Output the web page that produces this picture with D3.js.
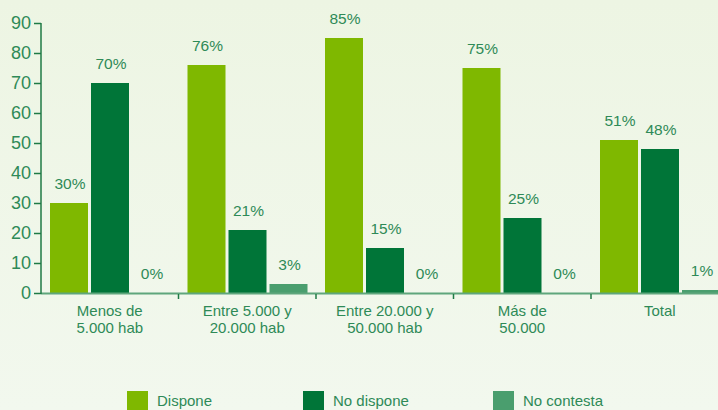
<!DOCTYPE html>
<html>
<head>
<meta charset="utf-8">
<script src="https://cdn.jsdelivr.net/npm/d3@7"></script>
<style>
  html, body { margin: 0; padding: 0; }
  body { width: 718px; height: 410px; overflow: hidden; }
  svg { display: block; font-family: "Liberation Sans", Arial, sans-serif; }
</style>
</head>
<body>
<div id="chart"></div>
<script>
const categories = [['Menos de', '5.000 hab'], ['Entre 5.000 y', '20.000 hab'], ['Entre 20.000 y', '50.000 hab'], ['Más de', '50.000'], ['Total']];
const seriesNames = ['Dispone', 'No dispone', 'No contesta'];
const dispone = [30, 76, 85, 75, 51];
const noDispone = [70, 21, 15, 25, 48];
const noContesta = [0, 3, 0, 0, 1];
const yTicks = [0, 10, 20, 30, 40, 50, 60, 70, 80, 90];
const colors = ['#7fb800', '#007538', '#4a9e6e'];

const width = 718, height = 410;
const textColor = '#2e8a57';
const values = [dispone, noDispone, noContesta];

const svg = d3.select('#chart').append('svg').attr('width', width).attr('height', height);

const grad = svg.append('defs').append('linearGradient').attr('id', 'bg').attr('x1', 0).attr('x2', 0).attr('y1', 0).attr('y2', 1);
grad.append('stop').attr('offset', '0%').attr('stop-color', '#edf5e3');
grad.append('stop').attr('offset', '100%').attr('stop-color', '#f2f8ee');
svg.append('rect').attr('width', width).attr('height', height).attr('fill', 'url(#bg)');

const x0 = d3.scaleBand().domain(d3.range(categories.length)).range([41, 728.5]).padding(0);
const x1 = d3.scaleBand().domain(d3.range(seriesNames.length)).range([9, 129]).paddingInner(0.0732).paddingOuter(0);
const y = d3.scaleLinear().domain([0, 90]).range([293, 23]);

// bars
const groups = svg.selectAll('.grp').data(categories).enter().append('g')
  .attr('class', 'grp').attr('transform', (d, i) => `translate(${x0(i)},0)`);

groups.each(function(d, ci) {
  const g = d3.select(this);
  seriesNames.forEach((s, si) => {
    const v = values[si][ci];
    g.append('rect')
      .attr('x', x1(si)).attr('width', x1.bandwidth())
      .attr('y', y(v)).attr('height', y(0) - y(v))
      .attr('fill', colors[si]);
    g.append('text')
      .attr('x', x1(si) + x1.bandwidth() / 2 + 1).attr('y', y(v) - 14)
      .attr('text-anchor', 'middle').attr('font-size', 15.5).attr('fill', textColor)
      .text(v + '%');
  });
});

// x axis baseline
svg.append('line').attr('x1', 41).attr('x2', width).attr('y1', 293.5).attr('y2', 293.5)
  .attr('stroke', '#5fa67c').attr('stroke-width', 2);
svg.selectAll('.xtick').data(d3.range(1, categories.length)).enter().append('line')
  .attr('x1', d => x0(d)).attr('x2', d => x0(d)).attr('y1', 294).attr('y2', 299)
  .attr('stroke', '#1f7a45').attr('stroke-width', 1.5);

// category labels
svg.selectAll('.xlab').data(categories).enter().append('text')
  .attr('text-anchor', 'middle').attr('font-size', 15).attr('fill', textColor)
  .attr('transform', (d, i) => `translate(${x0(i) + x0.bandwidth() / 2},316)`)
  .each(function(d) {
    d.forEach((line, li) => d3.select(this).append('tspan').attr('x', 0).attr('dy', li ? 17 : 0).text(line));
  });

// y axis
const yAxis = d3.axisLeft(y).tickValues(yTicks).tickSize(7).tickPadding(3);
const gy = svg.append('g').attr('transform', 'translate(41,0)').call(yAxis);
gy.select('.domain').attr('stroke', '#1f7a45').attr('stroke-width', 1.5).attr('d', `M0,${y(90)}V${y(0) + 1}`);
gy.selectAll('line').attr('stroke', '#1f7a45').attr('stroke-width', 1.5);
gy.selectAll('text').attr('font-size', 18).attr('fill', textColor).attr('font-family', '"Liberation Sans", Arial, sans-serif');

// legend
const legendX = [127, 303, 493];
const lg = svg.selectAll('.leg').data(seriesNames).enter().append('g')
  .attr('transform', (d, i) => `translate(${legendX[i]},391)`);
lg.append('rect').attr('width', 21).attr('height', 21).attr('fill', (d, i) => colors[i]);
lg.append('text').attr('x', 30).attr('y', 15).attr('font-size', 15).attr('fill', textColor).text(d => d);
</script>
</body>
</html>
